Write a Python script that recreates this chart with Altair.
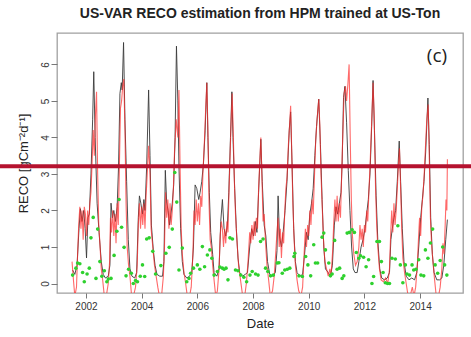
import altair as alt
import pandas as pd

# Observed (flux tower) RECO, decimal year / value
obs_t = [2001.52, 2001.60, 2001.68, 2001.75, 2001.80, 2001.86, 2001.92, 2001.97, 2002.02, 2002.07,
         2002.12, 2002.18, 2002.24, 2002.28, 2002.33, 2002.40, 2002.47, 2002.55, 2002.62, 2002.70,
         2002.80, 2002.86, 2002.90, 2002.95, 2003.00, 2003.06, 2003.12, 2003.17, 2003.22, 2003.27,
         2003.30, 2003.35, 2003.40, 2003.46, 2003.52, 2003.58, 2003.65, 2003.75, 2003.82, 2003.88,
         2003.92, 2003.97, 2004.03, 2004.08, 2004.12, 2004.18, 2004.25, 2004.30, 2004.35, 2004.42,
         2004.48, 2004.55, 2004.65, 2004.75, 2004.80, 2004.85, 2004.90, 2004.95, 2005.00, 2005.05,
         2005.10, 2005.15, 2005.20, 2005.25, 2005.30, 2005.34, 2005.40, 2005.46, 2005.52, 2005.62,
         2005.72, 2005.80, 2005.86, 2005.92, 2005.98, 2006.05, 2006.10, 2006.16, 2006.22, 2006.28,
         2006.34, 2006.38, 2006.43, 2006.48, 2006.55, 2006.60, 2006.70, 2006.78, 2006.84, 2006.90,
         2006.96, 2007.02, 2007.08, 2007.13, 2007.19, 2007.24, 2007.28, 2007.34, 2007.40, 2007.46,
         2007.52, 2007.62, 2007.72, 2007.80, 2007.88, 2007.95, 2008.02, 2008.08, 2008.14, 2008.20,
         2008.28, 2008.33, 2008.40, 2008.46, 2008.52, 2008.60, 2008.70, 2008.80, 2008.86, 2008.90,
         2008.95, 2009.02, 2009.08, 2009.15, 2009.22, 2009.30, 2009.35, 2009.40, 2009.46, 2009.52,
         2009.58, 2009.68, 2009.78, 2009.85, 2009.92, 2009.98, 2010.04, 2010.10, 2010.16, 2010.22,
         2010.28, 2010.36, 2010.42, 2010.48, 2010.54, 2010.60, 2010.70, 2010.78, 2010.85, 2010.92,
         2010.98, 2011.04, 2011.10, 2011.16, 2011.20, 2011.25, 2011.30, 2011.36, 2011.42, 2011.48,
         2011.54, 2011.60, 2011.66, 2011.74, 2011.80, 2011.88, 2011.95, 2012.02, 2012.08, 2012.14,
         2012.20, 2012.26, 2012.31, 2012.36, 2012.42, 2012.48, 2012.55, 2012.62, 2012.72, 2012.82,
         2012.90, 2012.95, 2013.00, 2013.06, 2013.12, 2013.18, 2013.25, 2013.30, 2013.36, 2013.42,
         2013.50, 2013.60, 2013.70, 2013.80, 2013.88, 2013.95, 2014.02, 2014.08, 2014.14, 2014.20,
         2014.28, 2014.33, 2014.38, 2014.44, 2014.50, 2014.60, 2014.70, 2014.78, 2014.85, 2014.92,
         2014.98]
obs_v = [0.37, 0.25, 0.5, 1.5, 2.05, 1.7, 2.0, 1.5, 0.7, 1.8,
         1.9, 3.0, 4.5, 5.8, 4.0, 2.2, 1.4, 0.6, 0.25, 0.15,
         0.2, 0.5, 2.2, 1.8, 2.0, 1.7, 2.1, 3.2, 5.2, 5.5,
         5.3, 6.6, 4.5, 2.8, 1.2, 0.4, 0.2, 0.15, 0.3, 1.8,
         2.4, 2.2, 1.9, 2.3, 2.0, 3.2, 5.3, 3.5, 1.6, 0.9,
         0.5, 0.25, 0.2, 0.2, 0.6, 3.1, 2.2, 2.0, 1.6, 1.9,
         2.2, 2.7, 4.0, 6.5, 5.0, 3.2, 1.5, 0.6, 0.25, 0.15,
         0.2, 0.3, 1.0, 2.7, 2.6, 2.3, 2.5, 2.8, 3.3, 4.2,
         5.5, 4.0, 2.5, 1.4, 0.8, 0.3, 0.2, 0.4, 1.7, 2.3,
         1.5, 1.3, 1.6, 2.5, 4.0, 5.25, 4.0, 2.6, 1.5, 0.7,
         0.3, 0.2, 0.25, 0.3, 1.0, 1.5, 1.3, 1.7, 1.4, 2.5,
         3.95, 2.8, 1.6, 1.3, 0.6, 0.25, 0.2, 0.3, 0.9, 2.4,
         1.3, 1.0, 1.4, 2.0, 2.8, 4.2, 4.7, 3.3, 1.5, 0.6,
         0.3, 0.2, 0.25, 0.8, 1.4, 1.2, 1.9, 2.2, 2.6, 3.5,
         4.3, 5.05, 3.8, 2.3, 1.0, 0.4, 0.3, 0.2, 0.5, 1.6,
         2.1, 1.9, 2.2, 2.5, 3.3, 5.1, 5.4, 4.4, 3.1, 2.0,
         1.0, 0.4, 0.3, 0.3, 0.6, 1.0, 1.2, 1.5, 1.9, 2.3,
         3.0, 4.3, 5.56, 4.2, 2.4, 1.2, 0.4, 0.15, 0.1, 0.15,
         0.3, 1.2, 1.5, 1.8, 2.0, 2.8, 3.9, 2.8, 1.5, 0.6,
         0.2, 0.1, 0.15, 0.1, 0.3, 1.0, 1.8, 2.3, 2.8, 3.6,
         5.08, 3.8, 1.8, 0.8, 0.3, 0.1, 0.1, 0.15, 0.5, 1.2,
         1.75]

# HPM estimate, decimal year / value
hpm_t = [2001.50, 2001.55, 2001.60, 2001.66, 2001.70, 2001.74, 2001.78, 2001.82, 2001.86, 2001.90,
         2001.94, 2001.98, 2002.02, 2002.06, 2002.10, 2002.14, 2002.18, 2002.22, 2002.26, 2002.30,
         2002.34, 2002.38, 2002.42, 2002.46, 2002.50, 2002.55, 2002.60, 2002.66, 2002.74, 2002.80,
         2002.85, 2002.88, 2002.92, 2002.96, 2003.00, 2003.04, 2003.08, 2003.12, 2003.16, 2003.20,
         2003.24, 2003.28, 2003.32, 2003.36, 2003.40, 2003.44, 2003.48, 2003.53, 2003.58, 2003.64,
         2003.72, 2003.78, 2003.84, 2003.88, 2003.92, 2003.96, 2004.00, 2004.04, 2004.08, 2004.12,
         2004.16, 2004.20, 2004.25, 2004.30, 2004.34, 2004.40, 2004.46, 2004.52, 2004.58, 2004.64,
         2004.72, 2004.78, 2004.82, 2004.86, 2004.90, 2004.94, 2004.98, 2005.02, 2005.06, 2005.10,
         2005.14, 2005.18, 2005.24, 2005.30, 2005.34, 2005.38, 2005.42, 2005.46, 2005.52, 2005.58,
         2005.64, 2005.72, 2005.78, 2005.84, 2005.88, 2005.92, 2005.96, 2006.00, 2006.04, 2006.08,
         2006.12, 2006.16, 2006.20, 2006.26, 2006.30, 2006.34, 2006.38, 2006.42, 2006.46, 2006.50,
         2006.55, 2006.60, 2006.66, 2006.72, 2006.78, 2006.82, 2006.86, 2006.90, 2006.94, 2006.98,
         2007.02, 2007.06, 2007.10, 2007.14, 2007.18, 2007.22, 2007.25, 2007.29, 2007.33, 2007.37,
         2007.42, 2007.48, 2007.55, 2007.62, 2007.70, 2007.76, 2007.82, 2007.88, 2007.92, 2007.96,
         2008.00, 2008.04, 2008.08, 2008.12, 2008.16, 2008.20, 2008.24, 2008.28, 2008.32, 2008.36,
         2008.40, 2008.45, 2008.50, 2008.56, 2008.62, 2008.70, 2008.76, 2008.82, 2008.86, 2008.90,
         2008.94, 2008.98, 2009.02, 2009.06, 2009.10, 2009.14, 2009.18, 2009.22, 2009.27, 2009.31,
         2009.35, 2009.39, 2009.43, 2009.47, 2009.52, 2009.58, 2009.64, 2009.72, 2009.78, 2009.84,
         2009.88, 2009.92, 2009.96, 2010.00, 2010.04, 2010.08, 2010.12, 2010.16, 2010.20, 2010.25,
         2010.30, 2010.36, 2010.40, 2010.44, 2010.48, 2010.53, 2010.58, 2010.64, 2010.70, 2010.76,
         2010.80, 2010.86, 2010.90, 2010.94, 2010.98, 2011.02, 2011.06, 2011.10, 2011.14, 2011.18,
         2011.22, 2011.27, 2011.32, 2011.36, 2011.41, 2011.45, 2011.49, 2011.53, 2011.57, 2011.62,
         2011.68, 2011.74, 2011.80, 2011.84, 2011.88, 2011.92, 2011.96, 2012.00, 2012.04, 2012.08,
         2012.12, 2012.16, 2012.20, 2012.25, 2012.31, 2012.35, 2012.40, 2012.44, 2012.48, 2012.54,
         2012.60, 2012.68, 2012.76, 2012.84, 2012.90, 2012.94, 2012.98, 2013.02, 2013.06, 2013.10,
         2013.14, 2013.18, 2013.22, 2013.26, 2013.30, 2013.34, 2013.38, 2013.44, 2013.50, 2013.56,
         2013.64, 2013.72, 2013.78, 2013.84, 2013.90, 2013.94, 2013.98, 2014.02, 2014.06, 2014.10,
         2014.14, 2014.19, 2014.24, 2014.29, 2014.33, 2014.37, 2014.41, 2014.46, 2014.52, 2014.58,
         2014.66, 2014.72, 2014.78, 2014.82, 2014.86, 2014.90, 2014.93, 2014.96, 2014.98]
hpm_v = [0.6, 0.1, -0.35, -0.1, 0.8, 1.6, 2.1, 1.5, 2.0, 1.2,
         2.1, 1.9, 1.3, 2.0, 1.6, 2.2, 2.5, 3.3, 4.2, 3.5,
         4.6, 5.25, 3.0, 1.6, 1.1, 0.4, 0.1, -0.35, -0.3, 0.0,
         0.6, 1.8, 1.4, 2.0, 1.3, 1.9, 1.1, 2.2, 1.6, 3.2,
         4.8, 5.0, 5.4, 5.6, 4.2, 2.2, 1.0, 0.5, 0.2, -0.35,
         -0.3, -0.1, 0.5, 1.6, 2.2, 1.5, 2.1, 1.6, 2.2, 1.5,
         2.4, 3.0, 3.77, 3.0, 1.5, 1.0, 0.5, 0.2, -0.1, -0.35,
         -0.3, 0.2, 1.0, 2.5, 1.8, 2.3, 1.5, 2.2, 1.6, 2.0,
         2.6, 3.6, 4.5, 4.0, 5.3, 3.2, 1.5, 0.8, 0.3, 0.0,
         -0.35, -0.35, -0.1, 0.8, 2.0, 1.6, 2.3, 1.7, 2.2, 1.6,
         2.4, 2.1, 3.0, 4.0, 4.8, 5.5, 4.2, 2.2, 1.2, 1.0,
         0.5, 0.1, -0.35, -0.2, 0.4, 1.3, 1.7, 1.5, 1.0, 1.5,
         1.1, 1.7, 1.4, 2.6, 3.6, 4.6, 5.2, 4.1, 2.8, 1.9,
         1.2, 0.5, 0.1, -0.3, -0.35, 0.0, 0.6, 1.4, 1.1, 1.6,
         1.2, 1.7, 1.3, 1.8, 1.5, 2.6, 3.3, 4.0, 2.9, 1.7,
         1.9, 1.1, 0.5, 0.1, -0.35, -0.2, 0.2, 0.9, 1.4, 1.8,
         1.0, 1.5, 0.7, 1.4, 1.1, 2.0, 2.6, 2.9, 3.8, 4.3,
         4.87, 3.6, 2.2, 1.3, 0.5, 0.1, -0.2, -0.35, -0.1, 0.9,
         1.5, 1.0, 1.6, 1.3, 2.0, 1.6, 2.3, 1.9, 2.8, 3.9,
         4.5, 5.05, 4.3, 3.0, 2.2, 1.2, 0.6, 0.4, 0.2, 0.4,
         0.2, 0.9, 1.7, 2.3, 1.7, 2.4, 1.7, 2.2, 1.8, 2.9,
         4.0, 5.2, 5.4, 5.0, 5.5, 6.0, 4.0, 2.3, 1.3, 0.8,
         0.5, 0.6, 1.0, 1.6, 1.2, 1.5, 1.0, 1.6, 1.4, 2.0,
         1.7, 2.5, 3.2, 4.2, 5.5, 4.6, 2.6, 1.6, 1.0, 0.4,
         0.1, 0.05, 0.15, 0.0, 0.4, 1.3, 2.0, 1.4, 2.2, 1.6,
         2.0, 2.6, 3.2, 3.7, 2.6, 1.5, 0.7, 0.3, 0.0, -0.3,
         -0.35, -0.1, -0.35, -0.1, 0.5, 1.2, 1.8, 1.3, 2.1, 2.4,
         2.9, 3.7, 4.5, 4.9, 3.4, 1.8, 1.1, 0.6, 0.1, -0.35,
         -0.35, -0.1, 0.4, 1.1, 0.8, 1.6, 2.3, 2.0, 3.4]

# Independent estimate points, decimal year / value
pts_t = [2001.52, 2001.64, 2001.70, 2001.78, 2001.88, 2001.94, 2002.04, 2002.12, 2002.18, 2002.26,
         2002.36, 2002.42, 2002.50, 2002.57, 2002.66, 2002.75, 2002.80, 2002.90, 2003.01, 2003.11,
         2003.19, 2003.28, 2003.37, 2003.44, 2003.53, 2003.63, 2003.70, 2003.78, 2003.85, 2003.95,
         2004.03, 2004.11, 2004.18, 2004.27, 2004.40, 2004.50, 2004.69, 2004.87, 2004.99, 2005.10,
         2005.19, 2005.26, 2005.34, 2005.46, 2005.62, 2005.70, 2005.76, 2005.86, 2006.00, 2006.09,
         2006.18, 2006.26, 2006.36, 2006.45, 2006.52, 2006.60, 2006.72, 2006.81, 2006.90, 2006.96,
         2007.03, 2007.10, 2007.17, 2007.26, 2007.37, 2007.46, 2007.56, 2007.67, 2007.77, 2007.89,
         2007.97, 2008.09, 2008.18, 2008.27, 2008.36, 2008.45, 2008.53, 2008.63, 2008.73, 2008.87,
         2008.93, 2009.05, 2009.14, 2009.23, 2009.32, 2009.47, 2009.50, 2009.65, 2009.77, 2009.89,
         2009.97, 2010.07, 2010.18, 2010.24, 2010.32, 2010.48, 2010.54, 2010.60, 2010.72, 2010.78,
         2010.84, 2010.93, 2011.02, 2011.11, 2011.20, 2011.26, 2011.38, 2011.46, 2011.56, 2011.64,
         2011.71, 2011.80, 2011.86, 2011.97, 2012.06, 2012.15, 2012.27, 2012.33, 2012.45, 2012.54,
         2012.61, 2012.67, 2012.75, 2012.83, 2012.90, 2012.99, 2013.11, 2013.20, 2013.29, 2013.38,
         2013.47, 2013.53, 2013.62, 2013.71, 2013.77, 2013.85, 2013.95, 2014.03, 2014.13, 2014.19,
         2014.28, 2014.37, 2014.45, 2014.54, 2014.63, 2014.72, 2014.81, 2014.88, 2014.96]
pts_v = [0.23, 0.42, 0.56, 0.54, 0.30, 0.05, 0.26, 0.42, 1.25, 1.81,
         0.14, 1.49, 0.60, 0.20, 0.35, 0.05, 0.12, 0.14, 0.77, 1.43,
         2.30, 1.54, 0.99, 0.21, 0.39, 0.28, 0.00, 0.08, 0.05, 0.20,
         0.51, 0.19, 1.22, 1.25, 0.88, 0.26, 0.49, 0.83, 0.99, 1.49,
         3.04, 2.23, 0.37, 0.97, 0.05, 0.14, 0.28, 0.42, 0.51, 0.39,
         1.01, 0.46, 0.78, 0.92, 0.69, 0.23, 0.33, 0.45, 0.42, 0.39,
         0.42, 0.10, 1.25, 1.22, 0.37, 0.35, 0.23, 0.17, 0.05, 0.23,
         0.33, 0.26, 0.23, 1.15, 1.22, 0.42, 0.33, 0.21, 0.23, 0.56,
         0.57, 0.28, 0.37, 0.39, 0.42, 0.74, 0.83, 0.21, 0.19, 0.74,
         0.51, 0.21, 1.06, 0.56, 0.56, 1.27, 1.38, 0.92, 0.56, 0.21,
         0.26, 1.18, 0.39, 0.42, 0.14, 0.21, 1.38, 1.40, 1.47, 1.40,
         0.85, 0.69, 0.76, 0.72, 0.46, 0.65, 0.00, 0.19, 1.15, 1.15,
         0.60, 0.30, 0.02, 0.00, 0.00, 0.69, 0.67, 1.58, 0.51, 0.02,
         0.51, 0.26, 0.23, 0.51, 0.37, 0.39, 0.65, 0.23, 0.21, 0.92,
         0.69, 1.11, 1.49, 0.51, 0.28, 0.63, 1.00, 0.51, 0.23]

year_ticks = [2002, 2004, 2006, 2008, 2010, 2012, 2014]
reco_ticks = [0, 1, 2, 3, 4, 5, 6]
threshold = 3.21

obs = pd.DataFrame({"year": obs_t, "reco": obs_v})
hpm = pd.DataFrame({"year": hpm_t, "reco": hpm_v})
pts = pd.DataFrame({"year": pts_t, "reco": pts_v})

FONT = "Liberation Sans"
W, H = 406, 260
LEFT, TOP = 57, 33

x_enc = alt.X("year:Q",
              scale=alt.Scale(domain=[2000.96, 2015.54], nice=False, zero=False),
              axis=alt.Axis(values=year_ticks, format="d", title="Date"))
y_enc = alt.Y("reco:Q",
              scale=alt.Scale(domain=[-0.26, 6.86], nice=False, zero=False),
              axis=alt.Axis(values=reco_ticks, format="d", title="RECO [gCm⁻²d⁻¹]",
                            labelAngle=-90, labelAlign="center", labelBaseline="bottom"))

obs_line = alt.Chart(obs).mark_line(color="#3a3a3a", strokeWidth=0.9, clip=True).encode(x=x_enc, y=y_enc)
hpm_line = alt.Chart(hpm).mark_line(color="#ff2a2a", strokeWidth=1.1, opacity=0.7, clip=True).encode(
    x="year:Q", y="reco:Q")
pts_layer = alt.Chart(pts).mark_circle(color="#2ed12e", size=13, opacity=1).encode(x="year:Q", y="reco:Q")

hline = alt.Chart(pd.DataFrame({"reco": [threshold]})).mark_rule(
    color="#b5122f", strokeWidth=4, clip=False).encode(
    y="reco:Q", x=alt.value(-LEFT), x2=alt.value(471 - LEFT))

panel_tag = alt.Chart(pd.DataFrame({"t": ["(c)"]})).mark_text(
    font="Open Sans", fontSize=19, color="#222", align="center", baseline="middle").encode(
    text="t:N", x=alt.value(380), y=alt.value(23))

chart = alt.layer(obs_line, hpm_line, pts_layer, hline, panel_tag).properties(
    width=W, height=H,
    title=alt.TitleParams("US-VAR RECO estimation from HPM trained at US-Ton",
                          font=FONT, fontSize=14, fontWeight="bold", color="#222",
                          anchor="middle", offset=12),
    autosize=alt.AutoSizeParams(type="none"),
    padding={"left": LEFT, "top": TOP, "right": 471 - LEFT - W, "bottom": 337 - TOP - H},
).configure_view(
    stroke="#a0a0a0", strokeWidth=1.3
).configure_axis(
    grid=False, domain=False, tickColor="#777", tickSize=6, labelPadding=1,
    labelFont=FONT, labelFontSize=10, labelColor="#333",
    titleFont=FONT, titleFontSize=13, titleFontWeight="normal", titleColor="#222",
).configure_axisX(
    tickSize=5, labelPadding=3, titlePadding=6
).configure_axisY(
    titlePadding=10
)

chart.save("out.html", embed_options={"renderer": "svg", "actions": False})
